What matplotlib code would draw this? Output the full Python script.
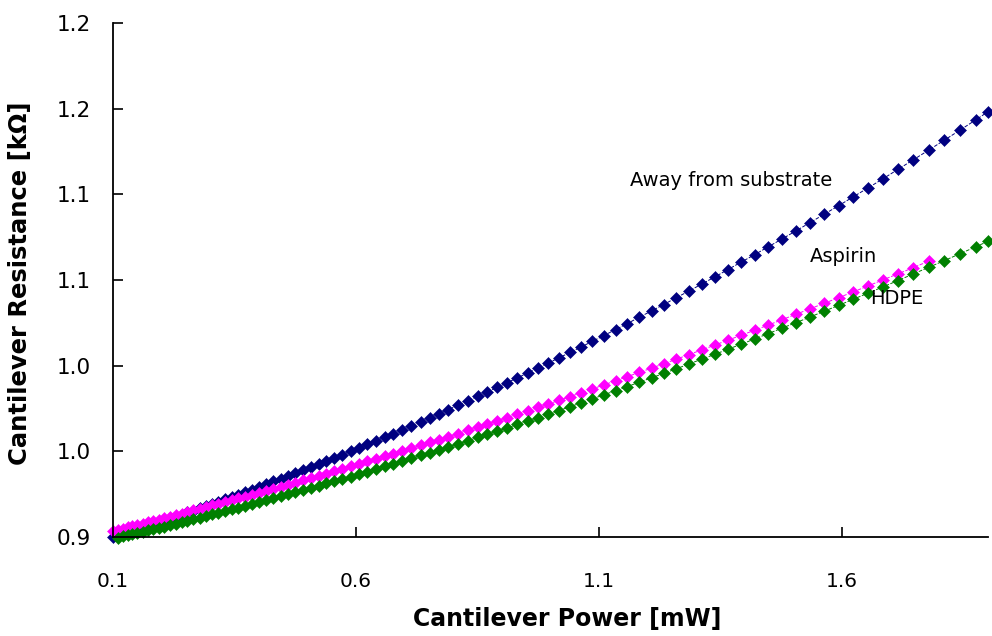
# Cantilever resistance vs. power, three conditions
import matplotlib.pyplot as plt

# Data (power in mW, resistance in kOhm)
power = [0.100, 0.110, 0.120, 0.130, 0.140, 0.150, 0.161, 0.172, 0.183, 0.194,
         0.205, 0.217, 0.229, 0.241, 0.253, 0.265, 0.278, 0.291, 0.304, 0.317,
         0.330, 0.344, 0.358, 0.372, 0.386, 0.400, 0.415, 0.430, 0.445, 0.460,
         0.475, 0.491, 0.507, 0.523, 0.539, 0.555, 0.572, 0.589, 0.606, 0.623,
         0.641, 0.659, 0.677, 0.695, 0.714, 0.733, 0.752, 0.771, 0.790, 0.810,
         0.830, 0.850, 0.870, 0.890, 0.911, 0.932, 0.953, 0.974, 0.995, 1.017,
         1.040, 1.063, 1.086, 1.110, 1.134, 1.158, 1.183, 1.208, 1.233, 1.259,
         1.285, 1.311, 1.338, 1.365, 1.392, 1.420, 1.448, 1.476, 1.505, 1.534,
         1.563, 1.593, 1.623, 1.653, 1.684, 1.715, 1.746, 1.778, 1.810, 1.842,
         1.875, 1.900]

away = [0.9000, 0.9009, 0.9018, 0.9027, 0.9036, 0.9045, 0.9055, 0.9066, 0.9076, 0.9086,
        0.9097, 0.9108, 0.9119, 0.9131, 0.9143, 0.9154, 0.9167, 0.9180, 0.9193, 0.9206,
        0.9219, 0.9234, 0.9248, 0.9262, 0.9277, 0.9292, 0.9308, 0.9324, 0.9340, 0.9356,
        0.9372, 0.9390, 0.9408, 0.9425, 0.9443, 0.9462, 0.9481, 0.9501, 0.9520, 0.9540,
        0.9561, 0.9583, 0.9604, 0.9626, 0.9649, 0.9673, 0.9696, 0.9720, 0.9744, 0.9769,
        0.9795, 0.9821, 0.9847, 0.9873, 0.9901, 0.9929, 0.9957, 0.9986, 1.0015, 1.0045,
        1.0077, 1.0109, 1.0142, 1.0176, 1.0211, 1.0246, 1.0283, 1.0320, 1.0357, 1.0397,
        1.0436, 1.0476, 1.0518, 1.0561, 1.0604, 1.0648, 1.0694, 1.0739, 1.0787, 1.0835,
        1.0884, 1.0934, 1.0986, 1.1037, 1.1091, 1.1146, 1.1201, 1.1258, 1.1316, 1.1374,
        1.1435, 1.1482]

aspirin = [0.9035, 0.9042, 0.9049, 0.9056, 0.9063, 0.9070, 0.9078, 0.9086, 0.9094, 0.9102,
           0.9110, 0.9119, 0.9128, 0.9137, 0.9146, 0.9155, 0.9164, 0.9174, 0.9184, 0.9194,
           0.9204, 0.9215, 0.9226, 0.9236, 0.9247, 0.9258, 0.9270, 0.9282, 0.9294, 0.9306,
           0.9318, 0.9331, 0.9344, 0.9357, 0.9370, 0.9384, 0.9398, 0.9412, 0.9426, 0.9441,
           0.9456, 0.9471, 0.9487, 0.9503, 0.9519, 0.9536, 0.9553, 0.9569, 0.9586, 0.9604,
           0.9623, 0.9641, 0.9659, 0.9678, 0.9697, 0.9717, 0.9736, 0.9756, 0.9776, 0.9797,
           0.9819, 0.9842, 0.9864, 0.9888, 0.9912, 0.9936, 0.9961, 0.9986, 1.0011, 1.0038,
           1.0065, 1.0092, 1.0120, 1.0149, 1.0177, 1.0207, 1.0237, 1.0268, 1.0300, 1.0332,
           1.0364, 1.0397, 1.0431, 1.0465, 1.0501, 1.0536, 1.0572, 1.0610]

hdpe = [0.8997, 0.9003, 0.9010, 0.9017, 0.9023, 0.9031, 0.9038, 0.9046, 0.9054,
        0.9061, 0.9070, 0.9078, 0.9087, 0.9095, 0.9104, 0.9113, 0.9122, 0.9132, 0.9141,
        0.9151, 0.9161, 0.9172, 0.9182, 0.9193, 0.9203, 0.9215, 0.9226, 0.9238, 0.9250,
        0.9262, 0.9274, 0.9287, 0.9300, 0.9313, 0.9326, 0.9340, 0.9353, 0.9368, 0.9382,
        0.9397, 0.9412, 0.9427, 0.9443, 0.9459, 0.9476, 0.9493, 0.9509, 0.9526, 0.9544,
        0.9562, 0.9581, 0.9599, 0.9617, 0.9637, 0.9657, 0.9676, 0.9696, 0.9717, 0.9738,
        0.9760, 0.9783, 0.9806, 0.9830, 0.9854, 0.9878, 0.9904, 0.9929, 0.9955, 0.9982,
        1.0010, 1.0038, 1.0066, 1.0096, 1.0125, 1.0156, 1.0187, 1.0219, 1.0251, 1.0284,
        1.0318, 1.0352, 1.0388, 1.0423, 1.0460, 1.0497, 1.0535, 1.0574, 1.0613, 1.0653,
        1.0694, 1.0726]

x_ticks = [0.1, 0.6, 1.1, 1.6]
x_labels = ['0.1', '0.6', '1.1', '1.6']
y_ticks = [0.90, 0.95, 1.00, 1.05, 1.10, 1.15, 1.20]
y_labels = ['0.9', '1.0', '1.0', '1.1', '1.1', '1.2', '1.2']

fig = plt.figure(figsize=(9.92, 6.36), dpi=100)
ax = fig.add_axes([113 / 992, 99 / 636, 875 / 992, 514 / 636])

# markers with a thin dashed trend line through them
series = [(power, away, '#000080'),
          (power[:len(aspirin)], aspirin, '#FF00FF'),
          (power[1:], hdpe, '#008000')]
for xs, ys, c in series:
    ax.plot(xs, ys, '--', color=c, lw=0.7, clip_on=False)
    ax.plot(xs, ys, 'D', color=c, ms=6.3, mew=0.4, clip_on=False)

ax.set_xlim(0.1, 1.9)
ax.set_ylim(0.9, 1.2)
ax.set_xticks(x_ticks)
ax.set_xticklabels(x_labels, fontsize=14.5)
ax.set_yticks(y_ticks)
ax.set_yticklabels(y_labels, fontsize=15.5)
ax.tick_params(axis='x', direction='in', length=7, width=1.2, pad=25)
ax.tick_params(axis='y', direction='in', length=7, width=1.2, pad=16)

for side in ['top', 'right']:
    ax.spines[side].set_visible(False)
for side in ['left', 'bottom']:
    ax.spines[side].set_linewidth(1.3)

ax.set_xlabel('Cantilever Power [mW]', fontsize=17, fontweight='bold')
ax.xaxis.set_label_coords(0.519, -0.136)
ax.set_ylabel('Cantilever Resistance [k\u03a9]', fontsize=17.5, fontweight='bold')
ax.yaxis.set_label_coords(-0.092, 0.494)

# curve labels
ax.text(1.164, 1.108, 'Away from substrate', fontsize=14, va='center')
ax.text(1.534, 1.0635, 'Aspirin', fontsize=14, va='center')
ax.text(1.658, 1.039, 'HDPE', fontsize=14, va='center')

fig.savefig('out.png', dpi=100)
